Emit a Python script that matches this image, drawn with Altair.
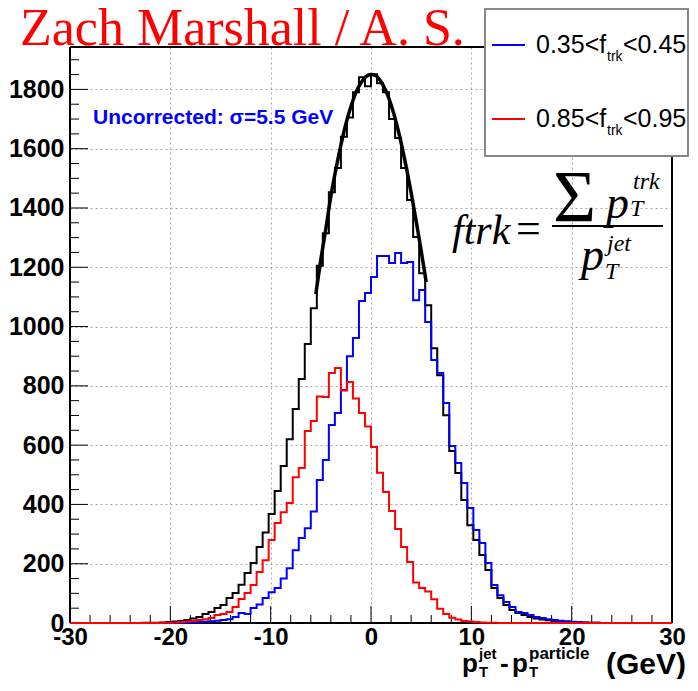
import altair as alt
import pandas as pd

# ---------------- data ----------------
BIN_START = -30.0
BIN_WIDTH = 0.6
X_DOMAIN = [-30, 30]
Y_DOMAIN = [0, 1943]

# all jets (black histogram), 100 bins of 0.6 GeV from -30 to 30
BLACK_ALL = [0] * 12 + [1, 1, 1] + [
    2, 3, 5, 7, 10, 15, 20, 30, 37, 51, 61, 84, 101, 129, 169, 202, 256, 305, 368, 445,
    530, 620, 722, 823, 941, 1062, 1205, 1315, 1453, 1535, 1640, 1705, 1790, 1841, 1811,
    1851, 1821, 1790, 1700, 1636, 1535, 1427, 1302, 1180, 1072, 927, 836, 701, 580, 506,
    415, 330, 280, 229, 179, 118, 84, 61, 44, 34, 27, 20, 15, 12, 9, 7, 5, 4, 3, 2, 2, 1, 1,
] + [0] * 12

# 0.35 < ftrk < 0.45 (blue)
BLUE_035_045 = [0] * 18 + [
    1, 1, 2, 3, 4, 6, 8, 10, 13, 20, 34, 30, 51, 62, 84, 104, 118, 150, 185, 245,
    287, 320, 376, 482, 550, 668, 708, 786, 900, 961, 1086, 1113, 1167, 1238, 1238,
    1214, 1248, 1214, 1218, 1089, 1123, 1015, 887, 843, 742, 597, 540, 472, 388, 314,
    270, 202, 128, 94, 71, 54, 37, 34, 27, 20, 17, 13, 10, 8, 6, 4, 3, 2, 1, 1,
] + [0] * 12

# 0.85 < ftrk < 0.95 (red)
RED_085_095 = [0] * 15 + [
    1, 1, 2, 3, 5, 7, 10, 13, 17, 27, 30, 37, 54, 81, 101, 128, 172, 212, 280, 337,
    374, 405, 492, 523, 648, 681, 764, 762, 843, 860, 784, 813, 757, 708, 663, 594,
    507, 442, 378, 317, 256, 206, 137, 118, 106, 80, 48, 30, 18, 12, 7, 5, 3, 2, 1, 1,
] + [0] * 29

# gaussian fit curve drawn over the black histogram
FIT_X = [-5.5, -5.0, -4.5, -4.0, -3.5, -3.0, -2.5, -2.0, -1.5, -1.0, -0.5, 0.0,
         0.5, 1.0, 1.5, 2.0, 2.5, 3.0, 3.5, 4.0, 4.5, 5.0, 5.5]
FIT_Y = [1110, 1226, 1330, 1440, 1530, 1612, 1684, 1742, 1790, 1822, 1843, 1850,
         1846, 1826, 1794, 1748, 1690, 1620, 1540, 1452, 1356, 1256, 1150]

X_LABELS = [-30, -20, -10, 0, 10, 20, 30]
Y_LABELS = [0, 200, 400, 600, 800, 1000, 1200, 1400, 1600, 1800]
X_MINOR = [-28, -26, -24, -22, -18, -16, -14, -12, -8, -6, -4, -2,
           2, 4, 6, 8, 12, 14, 16, 18, 22, 24, 26, 28]
Y_MINOR = [50, 100, 150, 250, 300, 350, 450, 500, 550, 650, 700, 750, 850, 900, 950,
           1050, 1100, 1150, 1250, 1300, 1350, 1450, 1500, 1550, 1650, 1700, 1750,
           1850, 1900]

LEGEND_LABELS = [("0.35<f", "trk", "<0.45", "#0000ff"),
                 ("0.85<f", "trk", "<0.95", "#ff0000")]

# ---------------- layout ----------------
W, H = 602, 576
SANS = "Liberation Sans"
SERIF = "Liberation Serif"


def steps(vals):
    xs = [BIN_START + BIN_WIDTH * i for i in range(len(vals) + 1)]
    ys = list(vals) + [vals[-1]]
    return pd.DataFrame({"x": xs, "y": ys})


ONE = pd.DataFrame({"k": [0]})

xscale = alt.Scale(domain=X_DOMAIN, nice=False, zero=False)
yscale = alt.Scale(domain=Y_DOMAIN, nice=False, zero=False)

common_axis = dict(
    title=None, ticks=False, domain=False, grid=True, gridDash=[2, 3],
    gridColor="#a8a8a8", gridWidth=1, labelFont=SANS, labelFontWeight="bold",
    labelColor="black", labelOverlap=False, labelExpr="'' + datum.value",
)
xaxis = alt.Axis(values=X_LABELS, labelFontSize=24, labelPadding=2,
                 labelFlush=False, **common_axis)
yaxis = alt.Axis(values=Y_LABELS, labelFontSize=25, labelPadding=6, **common_axis)

X = alt.X("x:Q", scale=xscale, axis=xaxis)
Y = alt.Y("y:Q", scale=yscale, axis=yaxis)


def hist(vals, color):
    return alt.Chart(steps(vals)).mark_line(
        interpolate="step-after", color=color, strokeWidth=2
    ).encode(x=X, y=Y)


def hrule(x1, x2, y, color="black", width=2):
    return alt.Chart(ONE).mark_rule(color=color, strokeWidth=width).encode(
        x=alt.value(x1), x2=alt.value(x2), y=alt.value(y))


def vrule(x, y1, y2, color="black", width=2):
    return alt.Chart(ONE).mark_rule(color=color, strokeWidth=width).encode(
        x=alt.value(x), y=alt.value(y1), y2=alt.value(y2))


def txt(s, x, y, size, color="black", font=SANS, weight="normal", style="normal",
        align="left"):
    return alt.Chart(ONE).mark_text(
        text=s, align=align, baseline="alphabetic", font=font, fontSize=size,
        fontWeight=weight, fontStyle=style, color=color,
    ).encode(x=alt.value(x), y=alt.value(y))


layers = []

# frame
layers += [hrule(0, W, 0), hrule(0, W, H), vrule(0, 0, H), vrule(W, 0, H)]

# ticks (inward)
layers.append(alt.Chart(pd.DataFrame({"x": X_LABELS})).mark_rule(color="black", strokeWidth=1)
              .encode(x=X, y=alt.value(H), y2=alt.value(H - 17)))
layers.append(alt.Chart(pd.DataFrame({"x": X_MINOR})).mark_rule(color="black", strokeWidth=1)
              .encode(x=X, y=alt.value(H), y2=alt.value(H - 8)))
layers.append(alt.Chart(pd.DataFrame({"y": Y_LABELS})).mark_rule(color="black", strokeWidth=1)
              .encode(y=Y, x=alt.value(0), x2=alt.value(18)))
layers.append(alt.Chart(pd.DataFrame({"y": Y_MINOR})).mark_rule(color="black", strokeWidth=1)
              .encode(y=Y, x=alt.value(0), x2=alt.value(9)))

# histograms
layers.append(hist(BLACK_ALL, "#000000"))
layers.append(hist(BLUE_035_045, "#0000ff"))
layers.append(hist(RED_085_095, "#ff0000"))

# fit
layers.append(alt.Chart(pd.DataFrame({"x": FIT_X, "y": FIT_Y})).mark_line(
    interpolate="monotone", color="black", strokeWidth=3.5).encode(x=X, y=Y))

# legend box
layers.append(alt.Chart(ONE).mark_rect(fill="white", stroke="#888888", strokeWidth=2).encode(
    x=alt.value(415), x2=alt.value(618), y=alt.value(-38), y2=alt.value(109)))
for i, (a, sub, b, col) in enumerate(LEGEND_LABELS):
    yy = -2 + 74 * i
    layers.append(hrule(422, 455, yy, color=col, width=2))
    layers.append(txt(a, 466, yy + 8, 25))
    layers.append(txt(sub, 537, yy + 16, 14))
    layers.append(txt(b, 553, yy + 8, 25))

# title + annotations
layers.append(txt("Zach Marshall / A. S.", -50, -2, 52, color="#ff0000", font=SERIF))
layers.append(txt("Uncorrected: σ=5.5 GeV", 23, 77, 21, color="#0000ff", weight="bold"))

# formula ftrk = sum pT^trk / pT^jet
layers.append(txt("ftrk", 382, 197, 42, font=SERIF, style="italic"))
layers.append(txt("=", 446, 196, 44, font=SERIF))
layers.append(hrule(482, 593, 179, width=2))
layers.append(txt("Σ", 483, 175, 74, font=SERIF))
layers.append(txt("p", 536, 171, 46, font=SERIF, style="italic"))
layers.append(txt("T", 560, 169, 24, font=SERIF, style="italic"))
layers.append(txt("trk", 563, 142, 24, font=SERIF, style="italic"))
layers.append(txt("p", 511, 223, 46, font=SERIF, style="italic"))
layers.append(txt("T", 535, 232, 24, font=SERIF, style="italic"))
layers.append(txt("jet", 537, 204, 24, font=SERIF, style="italic"))

# x-axis title
layers.append(txt("p", 392, 625, 26, weight="bold"))
layers.append(txt("jet", 409, 612, 15, weight="bold"))
layers.append(txt("T", 409, 630, 15, weight="bold"))
layers.append(txt("-", 430, 625, 26, weight="bold"))
layers.append(txt("p", 442, 625, 26, weight="bold"))
layers.append(txt("particle", 459, 612, 17, weight="bold"))
layers.append(txt("T", 459, 630, 15, weight="bold"))
layers.append(txt("(GeV)", 616, 627, 30, weight="bold", align="right"))

chart = alt.layer(*layers).properties(
    width=W, height=H,
    autosize=alt.AutoSizeParams(type="none"),
    padding={"left": 62, "top": 39, "right": 18, "bottom": 56},
).configure_view(strokeWidth=0)

chart.save("out.html", embed_options={"renderer": "svg", "actions": False})
